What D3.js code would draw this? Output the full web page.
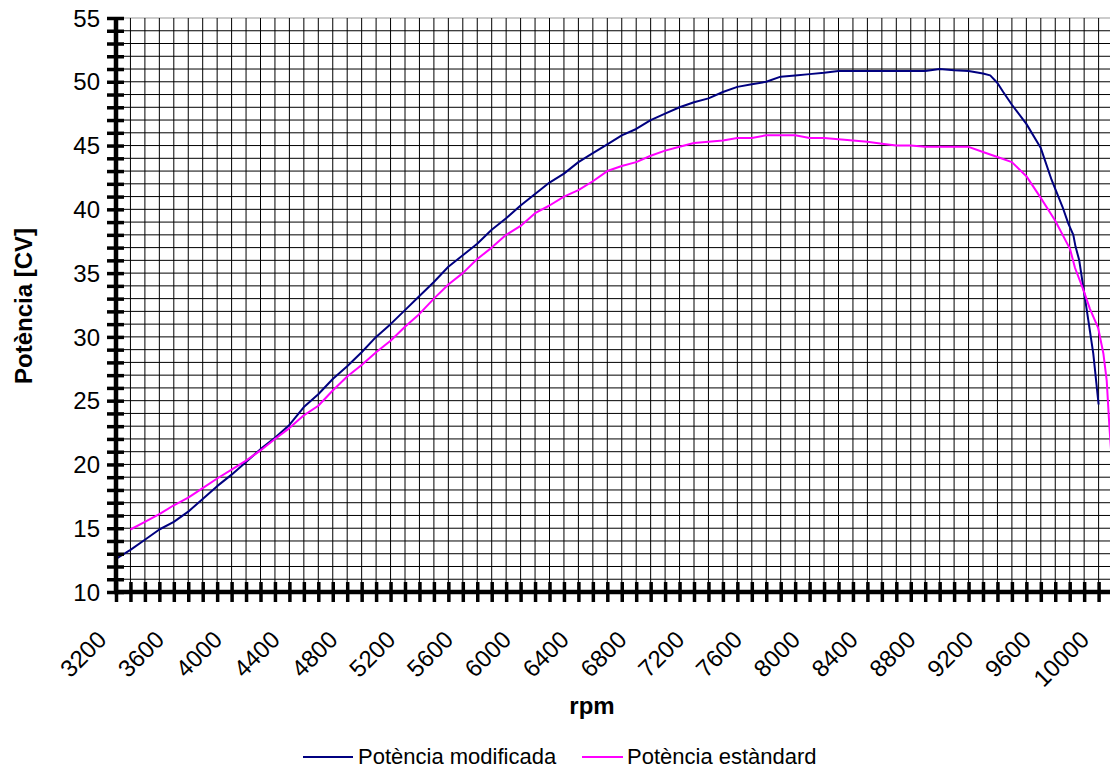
<!DOCTYPE html>
<html>
<head>
<meta charset="utf-8">
<script src="https://cdn.jsdelivr.net/npm/d3@7"></script>
<style>
  html, body { margin: 0; padding: 0; background: #fff; overflow: hidden; }
  svg { display: block; font-family: "Liberation Sans", Arial, sans-serif; }
</style>
</head>
<body>
<svg id="chart" width="1110" height="769"></svg>
<script>
// Engine power curves (CV) against engine speed (rpm)
const rpmModificada = [
  3200, 3300, 3400, 3500, 3600, 3700, 3800, 3900, 4000, 4100, 4200, 4300, 4400, 4500,
  4600, 4700, 4800, 4900, 5000, 5100, 5200, 5300, 5400, 5500, 5600, 5700, 5800, 5900,
  6000, 6100, 6200, 6300, 6400, 6500, 6600, 6700, 6800, 6900, 7000, 7100, 7200, 7300,
  7400, 7500, 7600, 7700, 7800, 7900, 8000, 8100, 8200, 8300, 8400, 8500, 8600, 8700,
  8800, 8900, 9000, 9100, 9200, 9250, 9300, 9340, 9400, 9500, 9600, 9675, 9750, 9790,
  9825, 9840, 9866, 9894, 9929, 9963, 10000
];
const potModificada = [
  12.6, 13.3, 14.1, 14.9, 15.5, 16.3, 17.3, 18.3, 19.2, 20.2, 21.2, 22.1, 23.1, 24.5,
  25.5, 26.7, 27.7, 28.8, 30.0, 31.0, 32.1, 33.2, 34.3, 35.5, 36.4, 37.3, 38.4, 39.3,
  40.3, 41.2, 42.1, 42.8, 43.7, 44.4, 45.1, 45.8, 46.3, 47.0, 47.5, 48.0, 48.4, 48.7,
  49.2, 49.6, 49.8, 50.0, 50.4, 50.5, 50.6, 50.7, 50.85, 50.85, 50.85, 50.85, 50.85, 50.85,
  50.85, 51.0, 50.9, 50.85, 50.65, 50.5, 49.9, 49.2, 48.2, 46.7, 44.8, 42.3, 40.2, 38.9,
  38.0, 37.1, 36.0, 33.9, 31.3, 28.7, 24.7
];

const rpmEstandard = [
  3300, 3400, 3500, 3600, 3700, 3800, 3900, 4000, 4100, 4200, 4300, 4400, 4500,
  4600, 4700, 4800, 4900, 5000, 5100, 5200, 5300, 5400, 5500, 5600, 5700, 5800, 5900,
  6000, 6100, 6200, 6300, 6400, 6500, 6600, 6700, 6800, 6900, 7000, 7100, 7200, 7300,
  7400, 7500, 7600, 7700, 7800, 7900, 8000, 8100, 8200, 8300, 8400, 8500, 8600, 8700,
  8800, 8900, 9000, 9100, 9200, 9300, 9400, 9500, 9594, 9698, 9802, 9837, 9894, 9940,
  9997, 10033, 10056, 10074, 10090
];
const potEstandard = [
  14.9, 15.5, 16.1, 16.8, 17.4, 18.15, 18.9, 19.6, 20.3, 21.1, 22.0, 22.85, 23.85,
  24.6, 25.8, 26.9, 27.8, 28.8, 29.7, 30.8, 31.8, 33.0, 34.1, 35.0, 36.1, 37.0, 38.0,
  38.7, 39.7, 40.3, 41.0, 41.5, 42.2, 43.0, 43.4, 43.7, 44.2, 44.6, 44.9, 45.2, 45.3,
  45.4, 45.6, 45.6, 45.8, 45.8, 45.8, 45.6, 45.6, 45.5, 45.4, 45.3, 45.15, 45.0, 45.0,
  44.9, 44.9, 44.9, 44.9, 44.5, 44.1, 43.7, 42.6, 41.0, 39.15, 36.9, 35.4, 33.7, 32.2,
  30.7, 28.7, 26.6, 23.1, 20.5
];

const xLabelTicks = d3.range(3200, 10001, 400);   // labelled rpm values
const xMinorTicks = d3.range(3200, 10101, 100);   // tick / grid every 100 rpm
const yLabelTicks = d3.range(10, 56, 5);
const yMinorTicks = d3.range(10, 56, 1);

const seriesNames = ["Potència modificada", "Potència estàndard"];
const seriesColors = ["#000080", "#FF00FF"];

const W = 1110, H = 769;
const svg = d3.select("#chart");
svg.append("rect").attr("width", W).attr("height", H).attr("fill", "#fff");

const x = d3.scaleLinear().domain([3200, 10000]).range([116, 1098.6]);
const y = d3.scaleLinear().domain([10, 55]).range([592, 18]);
const plotRight = W;

// grid
const grid = svg.append("g").attr("stroke", "#000").attr("stroke-width", 1);
grid.selectAll("line.h").data(yMinorTicks.filter(d => d > 10)).join("line")
  .attr("class", "h")
  .attr("x1", x(3200)).attr("x2", plotRight)
  .attr("y1", d => y(d)).attr("y2", d => y(d))
  .attr("stroke", d => d === 55 ? "#999" : "#000");
grid.selectAll("line.v").data(xMinorTicks.filter(d => d > 3200)).join("line")
  .attr("class", "v")
  .attr("x1", d => x(d)).attr("x2", d => x(d))
  .attr("y1", y(55)).attr("y2", y(10));

// series
const line = d3.line().x(d => x(d[0])).y(d => y(d[1]));
const seriesData = [
  d3.zip(rpmModificada, potModificada),
  d3.zip(rpmEstandard, potEstandard)
];
svg.append("g").selectAll("path").data(seriesData).join("path")
  .attr("d", line)
  .attr("fill", "none")
  .attr("stroke", (d, i) => seriesColors[i])
  .attr("stroke-width", 2)
  .attr("stroke-linejoin", "round");

// y axis
const yAxis = d3.axisLeft(y).tickValues(yMinorTicks).tickSize(0).tickFormat(() => "");
const yg = svg.append("g").attr("transform", `translate(${x(3200)},0)`).call(yAxis);
yg.select(".domain").remove();
yg.append("line").attr("x1", 0).attr("x2", 0).attr("y1", y(55) - 1).attr("y2", y(10) + 2)
  .attr("stroke", "#000").attr("stroke-width", 4.5);
yg.selectAll(".tick").append("line")
  .attr("x1", -9).attr("x2", 8).attr("y1", 0).attr("y2", 0)
  .attr("stroke", "#000").attr("stroke-width", 3.5);
svg.append("g").selectAll("text").data(yLabelTicks).join("text")
  .attr("x", 100).attr("y", d => y(d)).attr("dy", "0.36em")
  .attr("text-anchor", "end").attr("font-size", 24).attr("fill", "#000")
  .text(d => d);

// x axis
const xAxis = d3.axisBottom(x).tickValues(xMinorTicks).tickSize(0).tickFormat(() => "");
const xg = svg.append("g").attr("transform", `translate(0,${y(10)})`).call(xAxis);
xg.select(".domain").remove();
xg.append("line").attr("x1", x(3200) - 2).attr("x2", plotRight).attr("y1", 0).attr("y2", 0)
  .attr("stroke", "#000").attr("stroke-width", 4.5);
xg.selectAll(".tick").append("line")
  .attr("x1", 0).attr("x2", 0).attr("y1", -10).attr("y2", 10)
  .attr("stroke", "#000").attr("stroke-width", 3.5);
svg.append("g").selectAll("text").data(xLabelTicks).join("text")
  .attr("transform", d => `translate(${x(d) - 8},641) rotate(-45)`)
  .attr("text-anchor", "end").attr("font-size", 24).attr("fill", "#000")
  .text(d => d);

// axis titles
svg.append("text").attr("x", 592).attr("y", 714).attr("text-anchor", "middle")
  .attr("font-size", 24).attr("font-weight", "bold").text("rpm");
svg.append("text").attr("transform", "translate(32,306) rotate(-90)")
  .attr("text-anchor", "middle").attr("font-size", 24).attr("font-weight", "bold")
  .text("Potència [CV]");

// legend
const legendItems = [
  { x0: 303, x1: 353, tx: 358 },
  { x0: 582, x1: 623, tx: 627 }
];
const lg = svg.append("g");
legendItems.forEach((it, i) => {
  lg.append("line").attr("x1", it.x0).attr("x2", it.x1).attr("y1", 757).attr("y2", 757)
    .attr("stroke", seriesColors[i]).attr("stroke-width", 2);
  lg.append("text").attr("x", it.tx).attr("y", 764).attr("font-size", 22)
    .attr("fill", "#000").text(seriesNames[i]);
});
</script>
</body>
</html>
